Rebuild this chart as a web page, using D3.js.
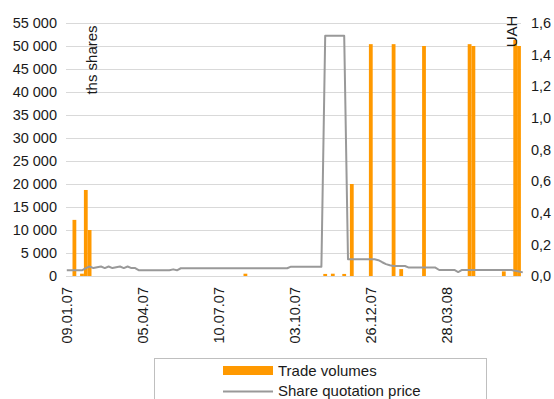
<!DOCTYPE html>
<html>
<head>
<meta charset="utf-8">
<script src="https://cdn.jsdelivr.net/npm/d3@7"></script>
<style>
  html, body { margin: 0; padding: 0; background: #fff; }
  svg { display: block; font-family: "Liberation Sans", Arial, sans-serif; }
</style>
</head>
<body>
<svg id="chart" width="554" height="399"></svg>
<script>
// Tick labels on the trading-day axis and the day index each one sits on
const dateLabels = ["09.01.07", "05.04.07", "10.07.07", "03.10.07", "26.12.07", "28.03.08"];
const dateLabelDays = [0, 20, 40, 60, 80, 100];

// Trade volumes, ths shares: trading-day index and volume
const tradeDays    = [2,     4,   5,     6,     47,  68,  70,  73,  75,    80,    86,    88,   94,    106,   107,   115,  118,   119];
const tradeVolumes = [12200, 500, 18700, 10000, 500, 450, 500, 450, 20000, 50400, 50400, 1500, 50000, 50400, 50000, 1000, 51300, 50000];

// Share quotation price, UAH, one value per trading day
const sharePrice = [
  0.036, 0.036, 0.036, 0.036, 0.036,
  0.050, 0.060, 0.050, 0.055, 0.060, 0.050, 0.060, 0.050, 0.055, 0.060, 0.050, 0.060, 0.050, 0.050,
  0.036, 0.036, 0.036, 0.036, 0.036, 0.036, 0.036, 0.036, 0.036,
  0.042, 0.036,
  0.049, 0.049, 0.049, 0.049, 0.049, 0.049, 0.049, 0.049, 0.049, 0.049,
  0.049, 0.049, 0.049, 0.049, 0.049, 0.049, 0.049, 0.049, 0.049, 0.049,
  0.049, 0.049, 0.049, 0.049, 0.049, 0.049, 0.049, 0.049, 0.049,
  0.059, 0.059, 0.059, 0.059, 0.059, 0.059, 0.059, 0.059, 0.059,
  1.52, 1.52, 1.52, 1.52, 1.52, 1.52,
  0.106, 0.106, 0.106, 0.106, 0.106, 0.106, 0.106, 0.106,
  0.100, 0.087, 0.075, 0.068,
  0.063, 0.063, 0.063, 0.063,
  0.053, 0.053, 0.053, 0.053, 0.053, 0.053, 0.053, 0.053,
  0.038, 0.038, 0.038, 0.038, 0.038,
  0.025,
  0.038, 0.038, 0.038, 0.038, 0.038, 0.038, 0.038, 0.038, 0.038, 0.038, 0.038, 0.038, 0.038, 0.038,
  0.033, 0.028, 0.023
];

const volumeTicks = [0, 5000, 10000, 15000, 20000, 25000, 30000, 35000, 40000, 45000, 50000, 55000];
const priceTicks = [0, 0.2, 0.4, 0.6, 0.8, 1.0, 1.2, 1.4, 1.6];

const ORANGE = "#ff9900";
const LINE_GREY = "#999999";
const GRID = "#d9d9d9";
const TEXT = "#1a1a1a";

const locale = d3.formatLocale({ decimal: ",", thousands: " ", grouping: [3], currency: ["", ""] });
const fmtVolume = locale.format(",.0f");
const fmtPrice = locale.format(".1f");

const svg = d3.select("#chart");
const plotLeft = 66, plotRight = 521, plotTop = 23, plotBottom = 276;

const x = d3.scaleBand()
  .domain(d3.range(sharePrice.length))
  .range([64.9, 524.7])
  .padding(0);
const yVol = d3.scaleLinear().domain([0, 55000]).range([plotBottom, plotTop]);
const yPrice = d3.scaleLinear().domain([0, 1.6]).range([plotBottom, plotTop]);

// Horizontal gridlines
svg.append("g")
  .selectAll("line")
  .data(volumeTicks)
  .join("line")
  .attr("x1", plotLeft).attr("x2", plotRight)
  .attr("y1", d => yVol(d) + 0.5).attr("y2", d => yVol(d) + 0.5)
  .attr("stroke", GRID)
  .attr("stroke-width", 1);

// Left axis: volumes
const leftAxis = svg.append("g")
  .attr("transform", `translate(${plotLeft - 9},0)`)
  .call(d3.axisLeft(yVol).tickValues(volumeTicks).tickFormat(fmtVolume).tickSize(0).tickPadding(0));
leftAxis.select(".domain").remove();
leftAxis.selectAll("text").attr("fill", TEXT).style("font-size", "14.5px").attr("font-family", null);

// Right axis: price
const rightAxis = svg.append("g")
  .attr("transform", `translate(${plotRight + 10},0)`)
  .call(d3.axisRight(yPrice).tickValues(priceTicks).tickFormat(fmtPrice).tickSize(0).tickPadding(0));
rightAxis.select(".domain").remove();
rightAxis.selectAll("text").attr("fill", TEXT).style("font-size", "14.5px").attr("font-family", null);

// Volume bars
svg.append("g")
  .selectAll("rect")
  .data(tradeDays.map((d, i) => ({ day: d, vol: tradeVolumes[i] })))
  .join("rect")
  .attr("x", d => x(d.day))
  .attr("width", x.bandwidth())
  .attr("y", d => yVol(d.vol))
  .attr("height", d => yVol(0) - yVol(d.vol))
  .attr("fill", ORANGE);

// Baseline
svg.append("line")
  .attr("x1", plotLeft).attr("x2", plotRight)
  .attr("y1", plotBottom + 0.5).attr("y2", plotBottom + 0.5)
  .attr("stroke", GRID);

// Price line
svg.append("path")
  .datum(sharePrice)
  .attr("fill", "none")
  .attr("stroke", LINE_GREY)
  .attr("stroke-width", 2)
  .attr("stroke-linejoin", "round")
  .attr("d", d3.line()
    .x((d, i) => x(i) + x.bandwidth() / 2)
    .y(d => yPrice(d)));

// Date axis with rotated labels
const bottomAxis = svg.append("g")
  .attr("transform", `translate(0,${plotBottom})`)
  .call(d3.axisBottom(x).tickValues(dateLabelDays)
    .tickFormat(d => dateLabels[dateLabelDays.indexOf(d)]).tickSize(0));
bottomAxis.select(".domain").remove();
bottomAxis.selectAll("text")
  .attr("fill", TEXT)
  .attr("font-family", null)
  .style("font-size", "14.5px")
  .attr("text-anchor", "end")
  .attr("transform", "rotate(-90)")
  .attr("x", -11)
  .attr("y", 0)
  .attr("dy", "0.36em");

// Axis titles
svg.append("text")
  .attr("transform", "translate(96.5,60) rotate(-90)")
  .attr("text-anchor", "middle")
  .attr("fill", TEXT)
  .style("font-size", "15px")
  .text("ths shares");

svg.append("text")
  .attr("transform", "translate(516.5,31.5) rotate(-90)")
  .attr("text-anchor", "middle")
  .attr("fill", TEXT)
  .style("font-size", "15px")
  .text("UAH");

// Legend
const legend = svg.append("g");
legend.append("rect")
  .attr("x", 154.5).attr("y", 358.5)
  .attr("width", 332).attr("height", 60)
  .attr("fill", "#fff")
  .attr("stroke", "#bfbfbf");
legend.append("rect")
  .attr("x", 223).attr("y", 366)
  .attr("width", 50).attr("height", 9)
  .attr("fill", ORANGE);
legend.append("text")
  .attr("x", 278).attr("y", 375.5)
  .attr("fill", TEXT)
  .style("font-size", "15px")
  .text("Trade volumes");
legend.append("line")
  .attr("x1", 223).attr("x2", 273)
  .attr("y1", 391.5).attr("y2", 391.5)
  .attr("stroke", LINE_GREY)
  .attr("stroke-width", 2);
legend.append("text")
  .attr("x", 278).attr("y", 396)
  .attr("fill", TEXT)
  .style("font-size", "15px")
  .text("Share quotation price");
</script>
</body>
</html>
